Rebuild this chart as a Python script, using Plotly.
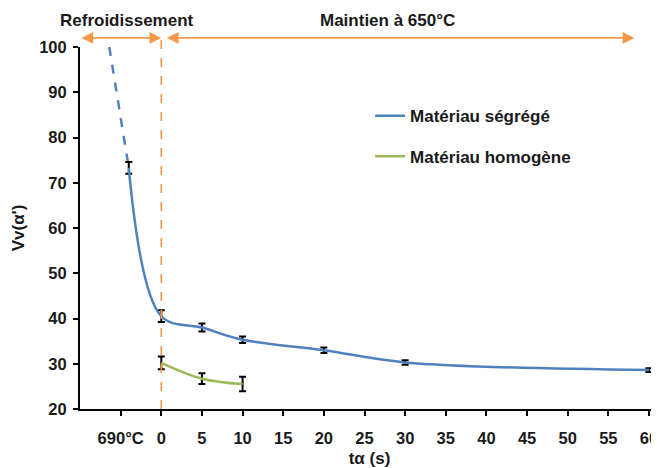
import plotly.graph_objects as go

# ---- data ----
x_seg = [-4, 0, 5, 10, 20, 30, 60]
y_seg = [73.3, 40.5, 38.0, 35.3, 33.0, 30.3, 28.6]
err_seg = [1.3, 1.3, 0.9, 0.7, 0.6, 0.5, 0.4]

x_seg_extrap = [-6.4, -4]
y_seg_extrap = [100, 73.3]

x_hom = [0, 5, 10]
y_hom = [30.2, 26.7, 25.5]
err_hom = [1.4, 1.2, 1.6]

tick_vals = [-5, 0, 5, 10, 15, 20, 25, 30, 35, 40, 45, 50, 55, 60]
tick_text = ["690°C", "0", "5", "10", "15", "20", "25", "30", "35", "40", "45", "50", "55", "60"]

BLUE = "#4F81BD"
GREEN = "#9BBB59"
ORANGE = "#F79646"
FONT = "Liberation Sans, Arial, sans-serif"
TXT = "#1a1a1a"

fig = go.Figure()

fig.add_trace(go.Scatter(
    x=x_seg_extrap, y=y_seg_extrap, mode="lines",
    line=dict(color=BLUE, width=2.5, dash="dash"),
    showlegend=False, hoverinfo="skip", cliponaxis=False))

fig.add_trace(go.Scatter(
    x=x_seg, y=y_seg, mode="lines", name="Matériau ségrégé",
    line=dict(color=BLUE, width=2.5, shape="spline", smoothing=1),
    error_y=dict(type="data", array=err_seg, color="black", thickness=2, width=3.5),
    legend="legend"))

fig.add_trace(go.Scatter(
    x=x_hom, y=y_hom, mode="lines", name="Matériau homogène",
    line=dict(color=GREEN, width=2.5, shape="spline", smoothing=1),
    error_y=dict(type="data", array=err_hom, color="black", thickness=2, width=3.5),
    legend="legend2"))

# vertical dashed separator at t = 0
fig.add_shape(type="line", xref="x", yref="paper", x0=0, x1=0, y0=0, y1=1.025,
              line=dict(color=ORANGE, width=1.6, dash="dash"))

# double-headed arrows
for xs, xe in [(-10, 0), (0.5, 58.2)]:
    fig.add_annotation(x=xe, y=1.025, xref="x", yref="paper",
                       ax=xs, ay=0, axref="x", ayref="pixel",
                       showarrow=True, text="", arrowhead=2, arrowside="end+start",
                       arrowsize=1.3, arrowwidth=1.8, arrowcolor=ORANGE)

title_font = dict(family=FONT, size=17, color=TXT, weight="bold")
fig.add_annotation(x=-4.25, y=1.072, xref="x", yref="paper", text="Refroidissement",
                   showarrow=False, xanchor="center", yanchor="middle", font=title_font)
fig.add_annotation(x=27.8, y=1.072, xref="x", yref="paper", text="Maintien à 650°C",
                   showarrow=False, xanchor="center", yanchor="middle", font=title_font)

axis_font = dict(family=FONT, size=16.5, color=TXT, weight="bold")
legend_font = dict(family=FONT, size=17, color=TXT, weight="bold")

fig.update_layout(
    width=651, height=460,
    margin=dict(l=72, r=0, t=39, b=59, autoexpand=False),
    paper_bgcolor="white", plot_bgcolor="white",
    font=dict(family=FONT, size=16, color=TXT),
    legend=dict(x=0.501, y=0.809, xanchor="left", yanchor="middle",
                font=legend_font, bgcolor="rgba(0,0,0,0)", itemwidth=30),
    legend2=dict(x=0.501, y=0.697, xanchor="left", yanchor="middle",
                 font=legend_font, bgcolor="rgba(0,0,0,0)", itemwidth=30),
    xaxis=dict(range=[-10, 61.23], tickvals=tick_vals, ticktext=tick_text,
               showgrid=False, zeroline=False, showline=True, linecolor="black", linewidth=2,
               ticks="outside", ticklen=5, tickwidth=2, tickcolor="black",
               tickfont=axis_font, ticklabelstandoff=8, automargin=False,
               ticklabeloverflow="allow",
               title=dict(text="tα (s)", font=title_font, standoff=6)),
    yaxis=dict(range=[20, 100], tickvals=[20, 30, 40, 50, 60, 70, 80, 90, 100],
               showgrid=False, zeroline=False, showline=True, linecolor="black", linewidth=2,
               ticks="outside", ticklen=5, tickwidth=2, tickcolor="black",
               tickfont=axis_font, ticklabelstandoff=3, automargin=False,
               title=dict(text="Vv(α')", font=title_font, standoff=10)),
)

fig.write_html("out.html")
